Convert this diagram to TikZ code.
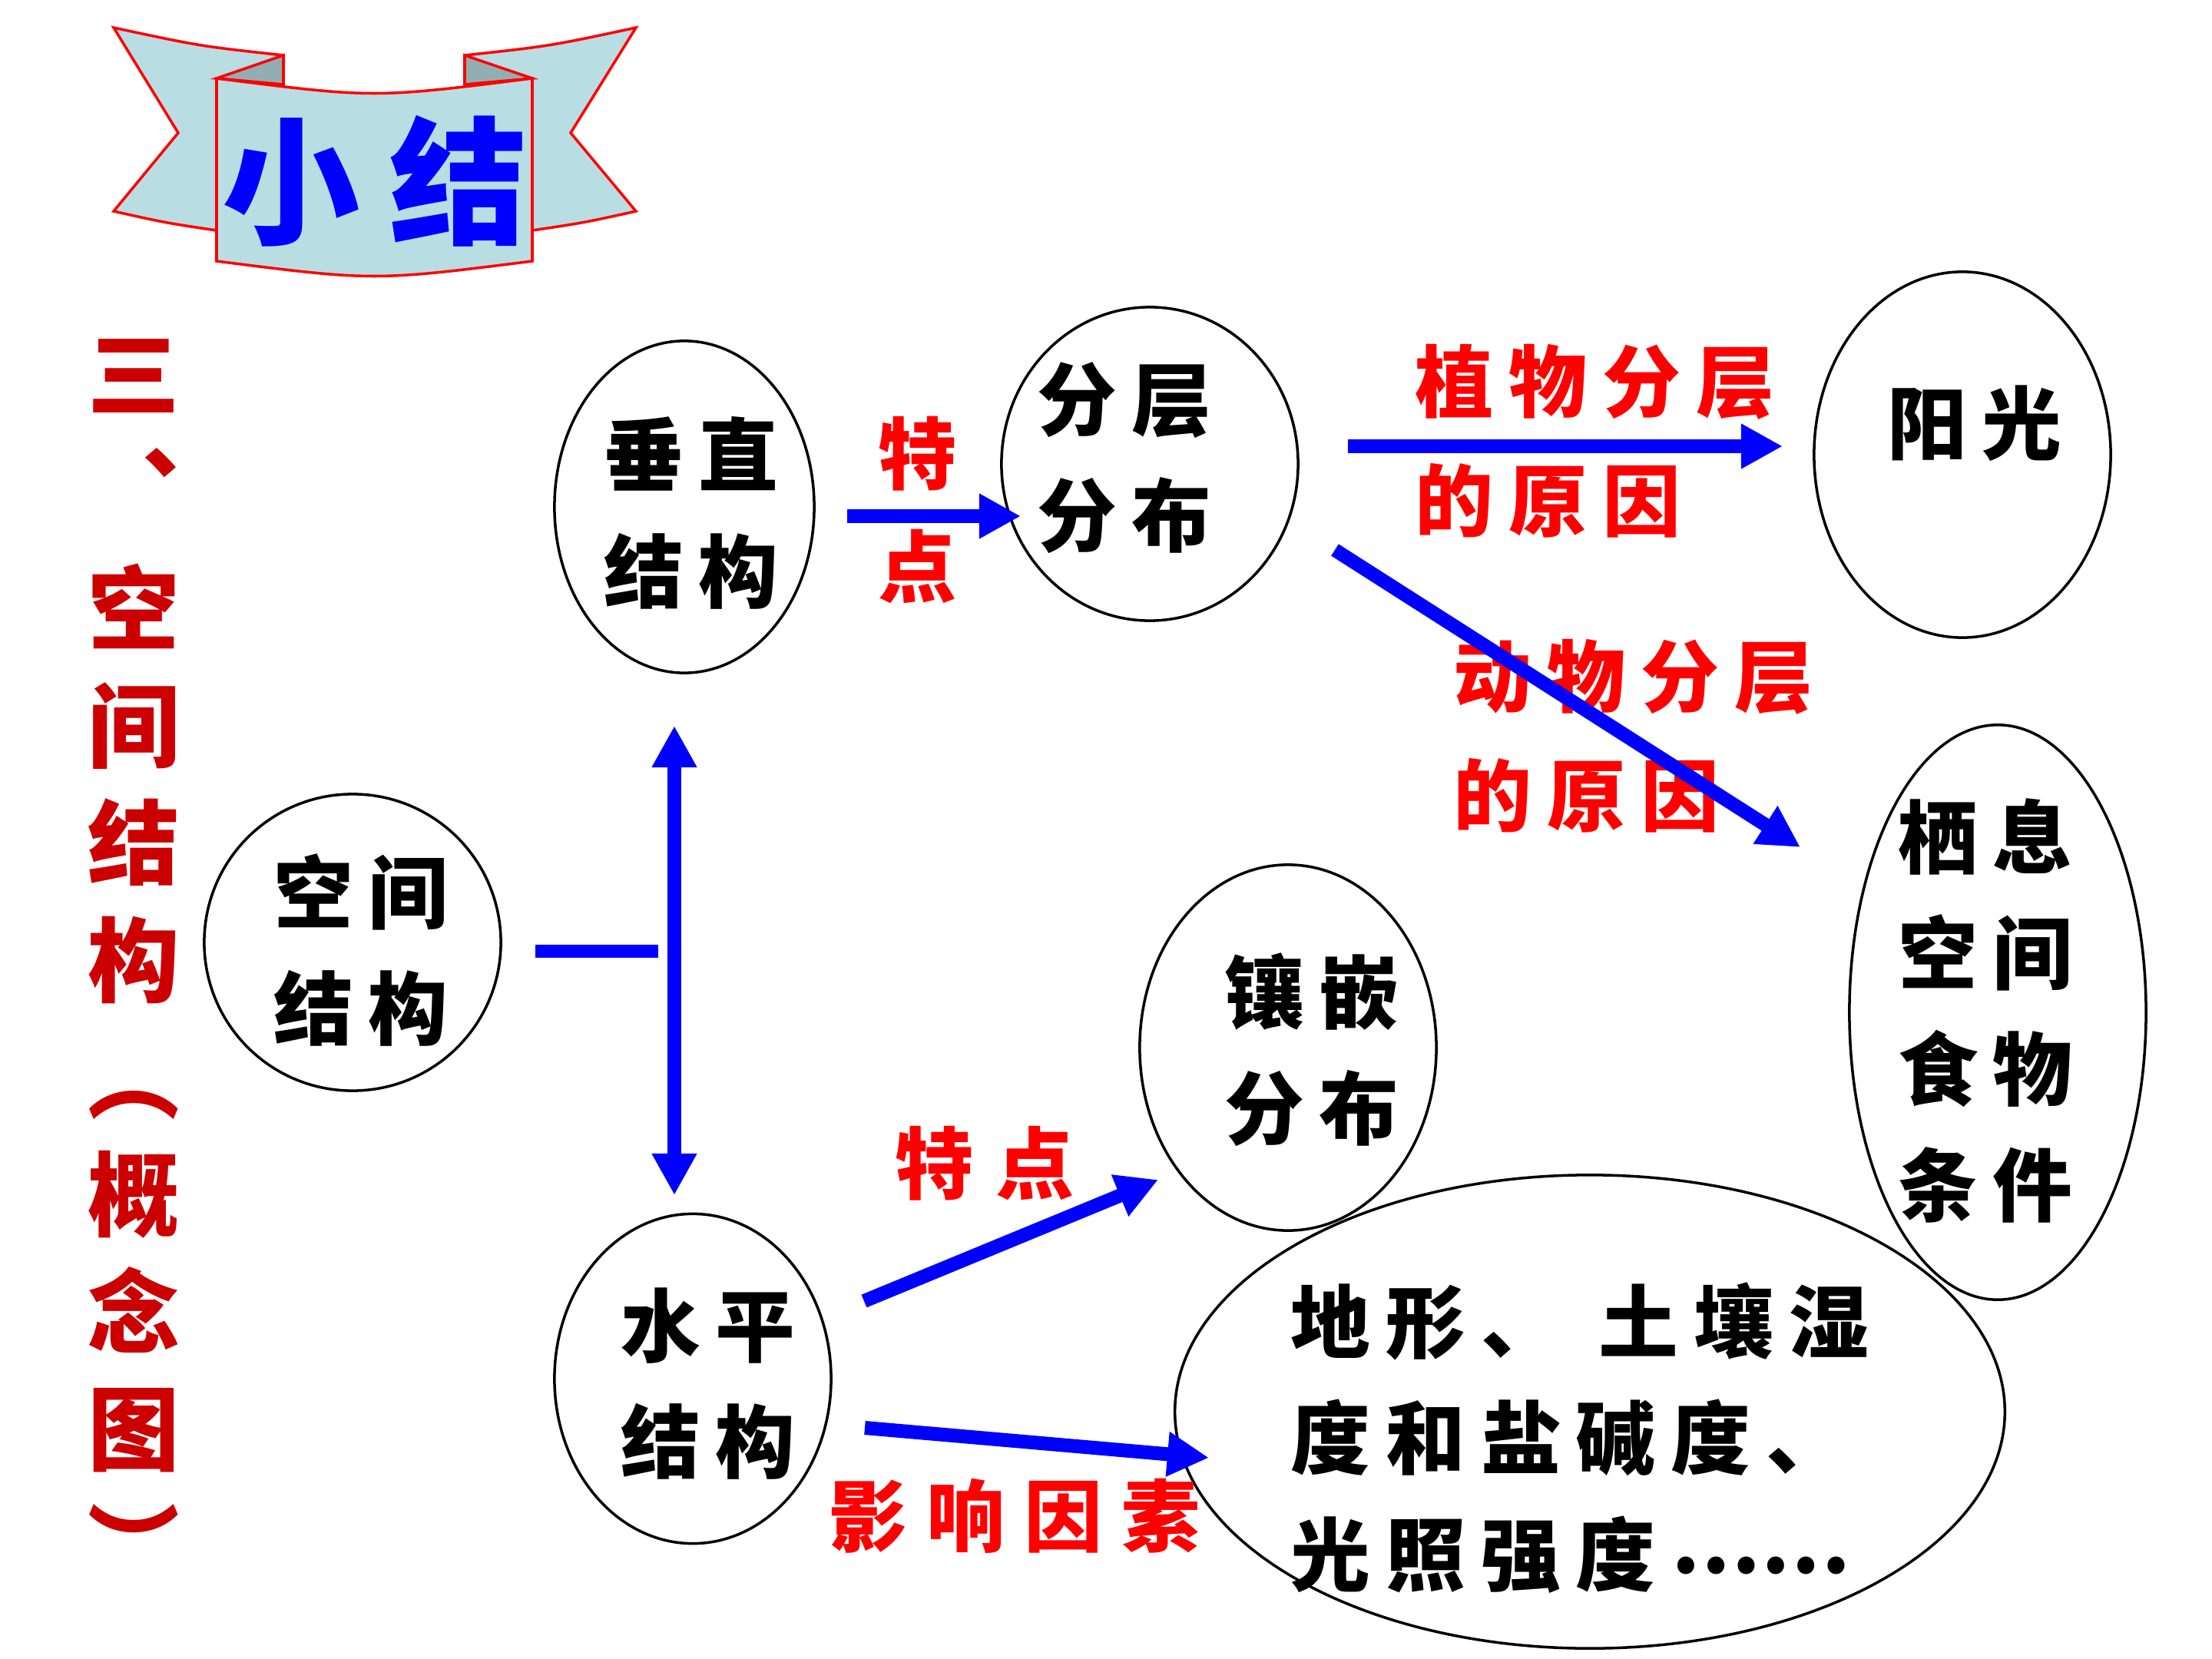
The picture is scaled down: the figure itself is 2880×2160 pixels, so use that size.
\documentclass[tikz,border=0pt]{standalone}
\usepackage{fontspec}
\newfontfamily\cjk{Noto Sans CJK SC}
\usetikzlibrary{shapes.geometric,arrows.meta}
\definecolor{ribbon}{RGB}{184,222,227}
\definecolor{ribbonfold}{RGB}{147,174,179}
\definecolor{titlered}{RGB}{204,0,0}
\newcommand\cg{\hspace{0.2cm}}
\begin{document}
\begin{tikzpicture}[x=0.01cm,y=-0.01cm,
  oval/.style={ellipse,draw=black,line width=1pt,inner sep=0pt},
  btxt/.style={font=\cjk\bfseries\fontsize{29.5}{43}\selectfont,text=black,inner sep=0pt,align=center},
  rtxt/.style={font=\cjk\bfseries\fontsize{29}{44}\selectfont,text=red,inner sep=0pt,align=left},
  vtxt/.style={font=\cjk\bfseries\fontsize{34}{43.4}\selectfont,text=titlered,inner sep=0pt,align=center},
  ttxt/.style={font=\cjk\bfseries\fontsize{51}{55}\selectfont,text=blue,inner sep=0pt},
  barrow/.style={draw=blue,line width=0.18cm,-{Triangle[width=0.55cm,length=0.54cm]}},
  dbarrow/.style={draw=blue,line width=0.18cm,{Triangle[width=0.55cm,length=0.54cm]}-{Triangle[width=0.55cm,length=0.54cm]}},
  bline/.style={draw=blue,line width=0.17cm},
  ribbonpart/.style={fill=ribbon,draw=red,line width=1pt,line join=miter},
  foldpart/.style={fill=ribbonfold,draw=red,line width=1pt,line join=miter}]
\useasboundingbox (0,0) rectangle (2880,2160);

% banner
\path[ribbonpart] (148,36) .. controls (260,60) .. (369,72) -- (369,220) -- (282,300) .. controls (215,290) .. (148,275) -- (232,173) -- cycle;
\path[ribbonpart] (828,36) .. controls (716,60) .. (605,72) -- (605,220) -- (693,300) .. controls (760,290) .. (828,275) -- (743,173) -- cycle;
\path[foldpart] (369,72) -- (369,110) -- (282,102) -- cycle;
\path[foldpart] (605,72) -- (605,110) -- (693,102) -- cycle;
\path[ribbonpart] (282,102) .. controls (487,128) .. (693,102) -- (693,340) .. controls (487,366) .. (282,340) -- cycle;
\node[ttxt] (title) at (488,236) {小\hspace{0.38cm}结};

% vertical heading
\node[vtxt] (heading) at (174,1250) {三\\︑\\空\\间\\结\\构\\︵\\概\\念\\图\\︶};

% ellipses
\node[oval,minimum width=3.86cm,minimum height=3.86cm] (e1) at (459,1227) {};
\node[oval,minimum width=3.38cm,minimum height=4.32cm] (e2) at (891,660) {};
\node[oval,minimum width=3.86cm,minimum height=4.08cm] (e3) at (1497,604) {};
\node[oval,minimum width=3.86cm,minimum height=4.76cm] (e4) at (2555,592) {};
\node[oval,minimum width=3.86cm,minimum height=7.48cm] (e5) at (2601,1318) {};
\node[oval,minimum width=3.86cm,minimum height=4.76cm] (e6) at (1677,1364) {};
\node[oval,minimum width=3.60cm,minimum height=4.29cm] (e7) at (902,1795) {};
\node[oval,minimum width=10.80cm,minimum height=6.16cm] (e8) at (2070,1838) {};

% black texts
\node[btxt] (t1) at (470,1237) {空\cg 间\\结\cg 构};
\node[btxt] (t2) at (900,668) {垂\cg 直\\结\cg 构};
\node[btxt] (t3) at (1464,596) {分\cg 层\\分\cg 布};
\node[btxt] (t4) at (2571,551) {阳\cg 光};
\node[btxt] (t5) at (2585,1316) {栖\cg 息\\空\cg 间\\食\cg 物\\条\cg 件};
\node[btxt] (t6) at (1708,1367) {镶\cg 嵌\\分\cg 布};
\node[btxt] (t7) at (922,1802) {水\cg 平\\结\cg 构};
\node[btxt,align=left,anchor=west] (t8) at (1680,1872) {地\cg 形\cg 、\hspace{0.5cm}土\cg 壤\cg 湿\\度\cg 和\cg 盐\cg 碱\cg 度\cg 、\\光\cg 照\cg 强\cg 度\hspace{0.2cm}\raisebox{0.15cm}{……}};

% red labels
\node[rtxt,align=center,font=\cjk\bfseries\fontsize{29}{41.7}\selectfont] (l1) at (1194,664) {特\\点};
\node[rtxt,anchor=west] (l2) at (1842,574) {植\cg 物\cg 分\cg 层\\的\cg 原\cg 因};
\node[rtxt,anchor=west] (l3) at (1892,958) {动\cg 物\cg 分\cg 层\\的\cg 原\cg 因};
\node[rtxt] (l4) at (1282,1515) {特\hspace{0.3cm}点};
\node[rtxt] (l5) at (1321,1974) {影\hspace{0.25cm}响\hspace{0.25cm}因\hspace{0.25cm}素};

% connectors
\coordinate (a1s) at (1103,672); \coordinate (a1e) at (1329,672);
\coordinate (a2s) at (1755,581); \coordinate (a2e) at (2321,581);
\coordinate (a3s) at (1738,716); \coordinate (a3e) at (2344,1103);
\coordinate (a4t) at (878,945);  \coordinate (a4b) at (878,1556);
\coordinate (a5s) at (697,1238); \coordinate (a5e) at (857,1238);
\coordinate (a6s) at (1125,1694); \coordinate (a6e) at (1508,1536);
\coordinate (a7s) at (1126,1859); \coordinate (a7e) at (1574,1898);

\draw[barrow] (a1s) -- (a1e);
\draw[barrow] (a2s) -- (a2e);
\draw[barrow] (a3s) -- (a3e);
\draw[dbarrow] (a4t) -- (a4b);
\draw[bline] (a5s) -- (a5e);
\draw[barrow] (a6s) -- (a6e);
\draw[barrow] (a7s) -- (a7e);
\end{tikzpicture}
\end{document}
